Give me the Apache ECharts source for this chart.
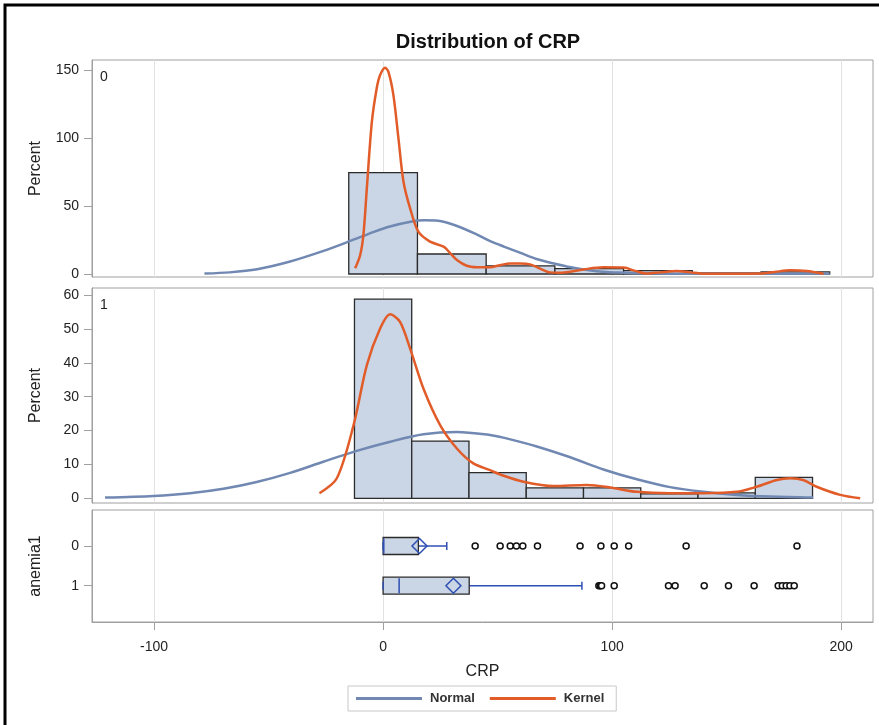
<!DOCTYPE html>
<html><head><meta charset="utf-8">
<script src="https://cdn.jsdelivr.net/npm/echarts@6/dist/echarts.min.js"></script>
<style>html,body{margin:0;padding:0;background:#fff}#c{width:879px;height:725px}</style>
</head><body><div id="c"></div>
<script>
// ---------- data ----------
const binEdges0 = [-15, 15, 45, 75, 105, 135, 165, 195];
const pct0 = [74.5, 14.7, 6.0, 4.0, 2.5, 0.8, 1.5];
const binEdges1 = [-12.5, 12.5, 37.5, 62.5, 87.5, 112.5, 137.5, 162.5, 187.5];
const pct1 = [58.8, 16.9, 7.6, 3.1, 3.1, 1.3, 1.6, 6.2];

const normal0 = [[-78,0.3],[-67,1.2],[-55,3.5],[-41,9],[-26,17],[-14,24.5],[-4,31],[3,35],[12,38.5],[18,39.5],[24,39.2],[32,35.5],[41,29],[47,24],[53,20],[60,15.5],[67,11],[75,7.5],[82,4.9],[90,2.8],[96,1.7],[105,0.9],[111,0.5],[125,0.2],[150,0.1],[195,0.1]];
const kernel0 = [[-12.2,4.2],[-10,14],[-8.6,28.7],[-7.1,63],[-4.9,112],[-2.8,136.5],[-1.3,146.3],[0.9,151.7],[2.3,148.8],[4.5,131.6],[6.7,99.8],[8.9,67.9],[11.8,48.3],[15.4,31.1],[20.5,23.8],[26.4,20.1],[29.5,15],[32.2,10.3],[36.5,6.1],[41,5],[46.7,4.9],[51,6.5],[55.5,7.8],[60,7.8],[64.2,7.1],[68.5,4],[72.9,1.2],[77,1.0],[81.7,1.7],[88,3.5],[96.2,4.9],[105,4.7],[110,2.3],[115.1,0.3],[121,1.2],[128.3,2.2],[134,1.2],[140,0.2],[150,0.1],[164.6,0.3],[171,1.5],[177.7,2.7],[185,2.2],[192.3,0.2]];

const normal1 = [[-121.4,0.2],[-100.3,0.7],[-84.3,1.5],[-69.7,2.8],[-55.2,4.8],[-40.6,7.5],[-26.1,10.8],[-11.5,14.0],[3.1,16.7],[17.6,18.9],[32.2,19.6],[46.7,18.7],[52.5,17.9],[67.1,15.3],[81.7,12.1],[96.2,8.5],[110.8,5.6],[125.3,3.3],[139.9,1.9],[154.4,1.0],[169,0.5],[187.8,0.2]];
const kernel1 = [[-27.8,1.5],[-20.2,5.9],[-12.9,21.6],[-7.1,39.3],[-1.3,50.1],[3.1,54.3],[7.4,52.1],[11.8,44.2],[17.6,32.4],[24.9,21.6],[32.2,14.7],[39.4,10.3],[46.7,8.3],[52,6.8],[61.3,4.9],[74.4,3.6],[88.9,3.9],[99.1,3.2],[110.8,1.9],[125.3,1.5],[139.9,1.5],[154.4,1.9],[163.1,3.4],[171.9,5.4],[177.7,5.9],[183.4,5.4],[189.3,3.4],[199.6,1.0],[208.3,0]];

const groups = [0, 1];
const whiskerLow = [0, 0];
const q1 = [0, 0];
const median = [0.3, 7.0];
const q3 = [15.4, 37.6];
const whiskerHigh = [27.8, 86.8];
const mean = [15.9, 30.7];
const outliers0 = [40.2, 51.1, 55.5, 58.2, 61.0, 67.4, 86.0, 95.1, 100.9, 107.2, 132.3, 180.7];
const outliers1 = [94.2, 94.8, 95.4, 100.9, 124.6, 127.5, 140.2, 150.8, 162.0, 172.5, 174.3, 176.0, 177.6, 179.5];

const xTicks = [-100, 0, 100, 200];
const yTicks0 = [0, 50, 100, 150];
const yTicks1 = [0, 10, 20, 30, 40, 50, 60];
const yTicks2 = [0, 1];

// ---------- build ----------
const FONT = '"Liberation Sans", Arial, sans-serif';
const BAR_FILL = '#CAD5E5', EDGE = '#2b2b2b', NORMAL_C = '#7088B2', KERNEL_C = '#E15C28', BOX_BLUE = '#2F50B3';
const xMin = -127.1, xMax = 213.9;

const hist0 = pct0.map((p, i) => [binEdges0[i], binEdges0[i + 1], p]);
const hist1 = pct1.map((p, i) => [binEdges1[i], binEdges1[i + 1], p]);
const boxRows = groups.map((g, i) => [g, whiskerLow[i], q1[i], median[i], q3[i], whiskerHigh[i], mean[i]]);
const outPts = outliers0.map(v => [v, 0]).concat(outliers1.map(v => [v, 1]));

function xAxis(gi, show) {
  return {
    type: 'value', gridIndex: gi, min: xMin, max: xMax,
    axisLine: { show: show, onZero: false, lineStyle: { color: '#a0a0a0' } },
    axisTick: { show: show, customValues: xTicks, length: 8, lineStyle: { color: '#a0a0a0' } },
    axisLabel: { show: show, customValues: xTicks, margin: 18, fontSize: 14, color: '#222', fontFamily: FONT },
    splitLine: { show: true, lineStyle: { color: '#e2e2e2', width: 1 } },
    name: show ? 'CRP' : '', nameLocation: 'middle', nameGap: 42,
    nameTextStyle: { fontSize: 16, color: '#222', fontFamily: FONT }
  };
}
function yAxis(gi, min, max, ticks, name, inverse) {
  return {
    type: 'value', gridIndex: gi, min: min, max: max, inverse: !!inverse,
    axisLine: { show: true, onZero: false, lineStyle: { color: '#a0a0a0' } },
    axisTick: { show: true, customValues: ticks, length: 8, lineStyle: { color: '#a0a0a0' } },
    axisLabel: { customValues: ticks, margin: 13, fontSize: 14, color: '#222', fontFamily: FONT },
    splitLine: { show: false },
    name: name, nameLocation: 'middle', nameRotate: 90, nameGap: 48,
    nameTextStyle: { fontSize: 16, color: '#222', fontFamily: FONT }
  };
}
function histRender(params, api) {
  const a = api.coord([api.value(0), api.value(2)]);
  const b = api.coord([api.value(1), 0]);
  return { type: 'rect', shape: { x: a[0], y: a[1], width: b[0] - a[0], height: b[1] - a[1] },
    style: { fill: BAR_FILL, stroke: EDGE, lineWidth: 1.3 } };
}
function boxRender(params, api) {
  const g = api.value(0);
  const X = v => api.coord([v, g])[0];
  const y = api.coord([0, g])[1];
  const h = 8.5, c = 4, d = 7.5;
  const lo = X(api.value(1)), b1 = X(api.value(2)), md = X(api.value(3)), b3 = X(api.value(4)), hi = X(api.value(5)), mn = X(api.value(6));
  const ls = { stroke: BOX_BLUE, lineWidth: 1.5 };
  return { type: 'group', children: [
    { type: 'line', shape: { x1: b3, y1: y, x2: hi, y2: y }, style: ls },
    { type: 'line', shape: { x1: hi, y1: y - c, x2: hi, y2: y + c }, style: ls },
    { type: 'line', shape: { x1: lo, y1: y, x2: b1, y2: y }, style: ls },
    { type: 'rect', shape: { x: b1, y: y - h, width: b3 - b1, height: 2 * h }, style: { fill: BAR_FILL, stroke: EDGE, lineWidth: 1.3 } },
    { type: 'line', shape: { x1: lo, y1: y - c, x2: lo, y2: y + c }, style: ls },
    { type: 'line', shape: { x1: md, y1: y - h + 1, x2: md, y2: y + h - 1 }, style: ls },
    { type: 'polygon', shape: { points: [[mn, y - d], [mn + d, y], [mn, y + d], [mn - d, y]] }, style: { fill: 'rgba(0,0,0,0)', stroke: BOX_BLUE, lineWidth: 1.5 } }
  ] };
}

const option = {
  animation: false,
  backgroundColor: '#fff',
  title: { text: 'Distribution of CRP', left: 483, top: 27, textAlign: 'center',
    textStyle: { fontSize: 20, fontWeight: 'bold', color: '#111', fontFamily: FONT } },
  legend: { data: ['Normal', 'Kernel'], left: 348, top: 686, icon: 'rect', itemWidth: 66, itemHeight: 3, itemGap: 15,
    padding: [6, 12, 6, 8], borderColor: '#c8c8c8', borderWidth: 1, selectedMode: false,
    textStyle: { fontSize: 13, fontWeight: 'bold', color: '#333', fontFamily: FONT, padding: [0, 0, 0, 3] } },
  grid: [
    { left: 92, top: 60, width: 781, height: 217, show: true, borderColor: '#a0a0a0', borderWidth: 1 },
    { left: 92, top: 288, width: 781, height: 215, show: true, borderColor: '#a0a0a0', borderWidth: 1 },
    { left: 92, top: 510, width: 781, height: 112, show: true, borderColor: '#a0a0a0', borderWidth: 1 }
  ],
  xAxis: [xAxis(0, false), xAxis(1, false), xAxis(2, true)],
  yAxis: [
    yAxis(0, -2.2, 157.4, yTicks0, 'Percent'),
    yAxis(1, -1.39, 62.07, yTicks1, 'Percent'),
    yAxis(2, -0.907, 1.914, yTicks2, 'anemia1', true)
  ],
  graphic: [
    { type: 'rect', shape: { x: 5, y: 5, width: 1000, height: 1000 }, style: { fill: 'none', stroke: '#000', lineWidth: 3 }, silent: true },
    { type: 'text', x: 100, y: 70, style: { text: '0', fontSize: 14, fill: '#222', fontFamily: FONT } },
    { type: 'text', x: 100, y: 298, style: { text: '1', fontSize: 14, fill: '#222', fontFamily: FONT } }
  ],
  series: [
    { type: 'custom', name: 'hist0', xAxisIndex: 0, yAxisIndex: 0, data: hist0, encode: { x: [0, 1], y: 2 }, renderItem: histRender },
    { type: 'line', name: 'Normal', xAxisIndex: 0, yAxisIndex: 0, data: normal0, smooth: 0.3, showSymbol: false,
      lineStyle: { color: NORMAL_C, width: 2.5 }, itemStyle: { color: NORMAL_C } },
    { type: 'line', name: 'Kernel', xAxisIndex: 0, yAxisIndex: 0, data: kernel0, smooth: 0.3, showSymbol: false,
      lineStyle: { color: KERNEL_C, width: 2.5 }, itemStyle: { color: KERNEL_C } },
    { type: 'custom', name: 'hist1', xAxisIndex: 1, yAxisIndex: 1, data: hist1, encode: { x: [0, 1], y: 2 }, renderItem: histRender },
    { type: 'line', name: 'Normal', xAxisIndex: 1, yAxisIndex: 1, data: normal1, smooth: 0.3, showSymbol: false,
      lineStyle: { color: NORMAL_C, width: 2.5 }, itemStyle: { color: NORMAL_C } },
    { type: 'line', name: 'Kernel', xAxisIndex: 1, yAxisIndex: 1, data: kernel1, smooth: 0.3, showSymbol: false,
      lineStyle: { color: KERNEL_C, width: 2.5 }, itemStyle: { color: KERNEL_C } },
    { type: 'custom', name: 'box', xAxisIndex: 2, yAxisIndex: 2, data: boxRows, encode: { x: [1, 2, 3, 4, 5, 6], y: 0 }, renderItem: boxRender },
    { type: 'scatter', name: 'outliers', xAxisIndex: 2, yAxisIndex: 2, data: outPts, symbol: 'circle', symbolSize: 6,
      itemStyle: { color: '#fff', borderColor: '#111', borderWidth: 1.5, opacity: 1 } }
  ]
};
const chart = echarts.init(document.getElementById('c'));
chart.setOption(option);
</script>
</body></html>
